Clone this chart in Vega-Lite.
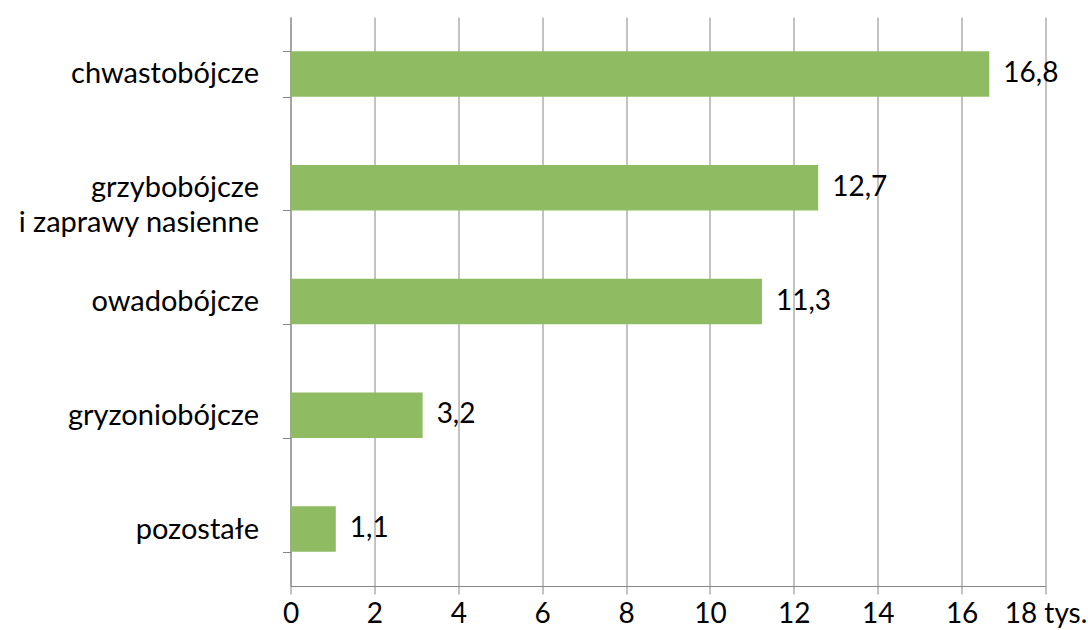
{
  "$schema": "https://vega.github.io/schema/vega-lite/v6.json",
  "width": 755,
  "height": 569,
  "autosize": {"type": "none"},
  "padding": {"left": 290.5, "top": 17, "right": 42.5, "bottom": 44},
  "background": "white",
  "config": {"view": {"stroke": null}, "font": "Lato"},
  "data": {
    "values": [
      {"kategoria": "chwastobójcze", "wartosc": 16.66, "etykieta": "16,8"},
      {"kategoria": "grzybobójcze i zaprawy nasienne", "wartosc": 12.58, "etykieta": "12,7"},
      {"kategoria": "owadobójcze", "wartosc": 11.24, "etykieta": "11,3"},
      {"kategoria": "gryzoniobójcze", "wartosc": 3.15, "etykieta": "3,2"},
      {"kategoria": "pozostałe", "wartosc": 1.08, "etykieta": "1,1"}
    ]
  },
  "encoding": {
    "y": {
      "field": "kategoria",
      "type": "nominal",
      "sort": null,
      "scale": {"paddingInner": 0.6, "paddingOuter": 0.3},
      "axis": {
        "title": null,
        "tickBand": "extent",
        "tickSize": 8,
        "tickColor": "#868686",
        "domainColor": "#868686",
        "labelFontSize": 29,
        "labelColor": "#000000",
        "labelPadding": 24,
        "labelLineHeight": 35,
        "labelLimit": 300,
        "grid": false,
        "labelExpr": "datum.label == 'grzybobójcze i zaprawy nasienne' ? ['grzybobójcze', 'i zaprawy nasienne'] : datum.label"
      }
    },
    "x": {
      "field": "wartosc",
      "type": "quantitative",
      "scale": {"domain": [0, 18], "nice": false},
      "axis": {
        "title": null,
        "values": [0, 2, 4, 6, 8, 10, 12, 14, 16, 18],
        "labelExpr": "datum.value == 18 ? '18 tys.' : datum.label",
        "tickSize": 8,
        "tickColor": "#868686",
        "domainColor": "#868686",
        "gridColor": "#868686",
        "grid": true,
        "labelFontSize": 28,
        "labelColor": "#000000",
        "labelPadding": 6,
        "labelFlush": false,
        "labelOverlap": false
      }
    }
  },
  "layer": [
    {"mark": {"type": "bar", "color": "#8fbc63"}},
    {
      "mark": {"type": "text", "align": "left", "baseline": "middle", "dx": 14, "fontSize": 28, "color": "#000000"},
      "encoding": {"text": {"field": "etykieta"}}
    }
  ]
}
